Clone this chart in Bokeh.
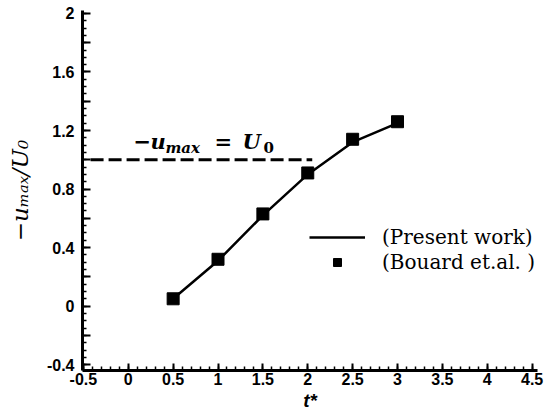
import math
from bokeh.plotting import figure
from bokeh.models import Range1d, FixedTicker, Label, Legend, LegendItem
from bokeh.embed import file_html
from bokeh.resources import INLINE

# ---------------- data ----------------
t_present = [0.5, 1.0, 1.5, 2.0, 2.5, 3.0]
u_present = [0.05, 0.31, 0.62, 0.90, 1.12, 1.25]
t_bouard = [0.5, 1.0, 1.5, 2.0, 2.5, 3.0]
u_bouard = [0.05, 0.32, 0.63, 0.91, 1.14, 1.26]
ref_t = [-0.42, 2.05]
ref_u = [1.0, 1.0]

x_ticks = [-0.5, 0.0, 0.5, 1.0, 1.5, 2.0, 2.5, 3.0, 3.5, 4.0, 4.5]
x_tick_labels = ["-0.5", "0", "0.5", "1", "1.5", "2", "2.5", "3", "3.5", "4", "4.5"]
y_ticks = [-0.4, -0.2, 0.0, 0.2, 0.4, 0.6, 0.8, 1.0, 1.2, 1.4, 1.6, 1.8, 2.0]
y_tick_labels = ["-0.4", "", "0", "", "0.4", "", "0.8", "", "1.2", "", "1.6", "", "2"]
x_title = "t*"
y_title = "\u2212u\u2098\u2090\u2093/U\u2080"

# ---------------- geometry ----------------
W, H = 544, 416
BL, BR, BT, BB = 82, 7, 10, 46
X0, X1 = -0.51, 4.56
Y0, Y1 = -0.44, 2.02
FW, FH = W - BL - BR, H - BT - BB


def fx(px):
    return X0 + (px - BL) * (X1 - X0) / FW


def fy(py):
    return Y1 - (py - BT) * (Y1 - Y0) / FH


p = figure(width=W, height=H, output_backend="svg", toolbar_location=None,
           x_range=Range1d(X0, X1), y_range=Range1d(Y0, Y1))
p.min_border_left = BL
p.min_border_right = BR
p.min_border_top = BT
p.min_border_bottom = BB
p.outline_line_color = None
p.xgrid.visible = False
p.ygrid.visible = False
p.background_fill_color = "white"
p.border_fill_color = "white"

x_minor = [round(-0.5 + 0.1 * i, 2) for i in range(51)]
y_minor = [round(-0.4 + 0.05 * i, 2) for i in range(49)]
p.xaxis.ticker = FixedTicker(ticks=x_ticks, minor_ticks=x_minor)
p.yaxis.ticker = FixedTicker(ticks=y_ticks, minor_ticks=y_minor)
p.xaxis.major_label_overrides = {k: v for k, v in zip(x_ticks, x_tick_labels)}
p.yaxis.major_label_overrides = {k: v for k, v in zip(y_ticks, y_tick_labels)}

for ax in (p.xaxis, p.yaxis):
    ax.axis_line_width = 3
    ax.axis_line_color = "black"
    ax.major_tick_line_width = 2
    ax.minor_tick_line_width = 1.5
    ax.major_tick_out = 0
    ax.minor_tick_out = 0
    ax.minor_tick_in = 4
    ax.major_label_text_font = "Liberation Sans"
    ax.major_label_text_font_style = "bold"
    ax.major_label_text_font_size = "16px"
    ax.major_label_text_color = "black"
p.xaxis.major_tick_in = 7
p.yaxis.major_tick_in = 8
p.xaxis.major_label_standoff = 2
p.yaxis.major_label_standoff = 8

p.xaxis.axis_label = x_title
p.xaxis.axis_label_text_font = "Liberation Sans"
p.xaxis.axis_label_text_font_style = "bold italic"
p.xaxis.axis_label_text_font_size = "19px"
p.xaxis.axis_label_standoff = 2
p.xaxis.axis_label_text_color = "black"

p.yaxis.axis_label = y_title
p.yaxis.axis_label_text_font = "DejaVu Serif"
p.yaxis.axis_label_text_font_style = "italic"
p.yaxis.axis_label_text_font_size = "23px"
p.yaxis.axis_label_standoff = 11
p.yaxis.axis_label_text_color = "black"

# reference level
p.line(ref_t, ref_u, line_color="black", line_width=3, line_dash="13 5")

# series
r_line = p.line(t_present, u_present, line_color="black", line_width=2.5)
r_sq = p.scatter(t_bouard, u_bouard, marker="square", size=12, color="black")

legend = Legend(items=[LegendItem(label="(Present work)", renderers=[r_line]),
                       LegendItem(label="(Bouard et.al. )", renderers=[r_sq])],
                location=(227, 96), glyph_width=56, glyph_height=20,
                label_height=20, spacing=1, padding=0, margin=0,
                label_standoff=17, border_line_alpha=0, background_fill_alpha=0,
                label_text_font="DejaVu Serif", label_text_font_size="20px",
                label_text_color="black")
p.add_layout(legend)


def piece(text, px, py, size, style="italic", font="DejaVu Serif"):
    """Horizontal text piece inside the frame (data units)."""
    dy = 0.38 * size
    p.add_layout(Label(x=fx(px), y=fy(py - dy), text=text,
                       text_font=font, text_font_style=style,
                       text_font_size=f"{size}px", text_color="black",
                       text_align="left", text_baseline="alphabetic"))


# annotation  -u_max = U_0
piece("\u2212", 133, 149, 21, "bold")
piece("u", 150, 149, 21, "bold italic")
piece("max", 165, 153, 15, "bold italic")
piece("=", 214, 149, 21, "bold")
piece("U", 242, 149, 21, "bold italic")
piece("0", 263, 153, 15, "bold")

open("out.html", "w").write(file_html(p, INLINE))
